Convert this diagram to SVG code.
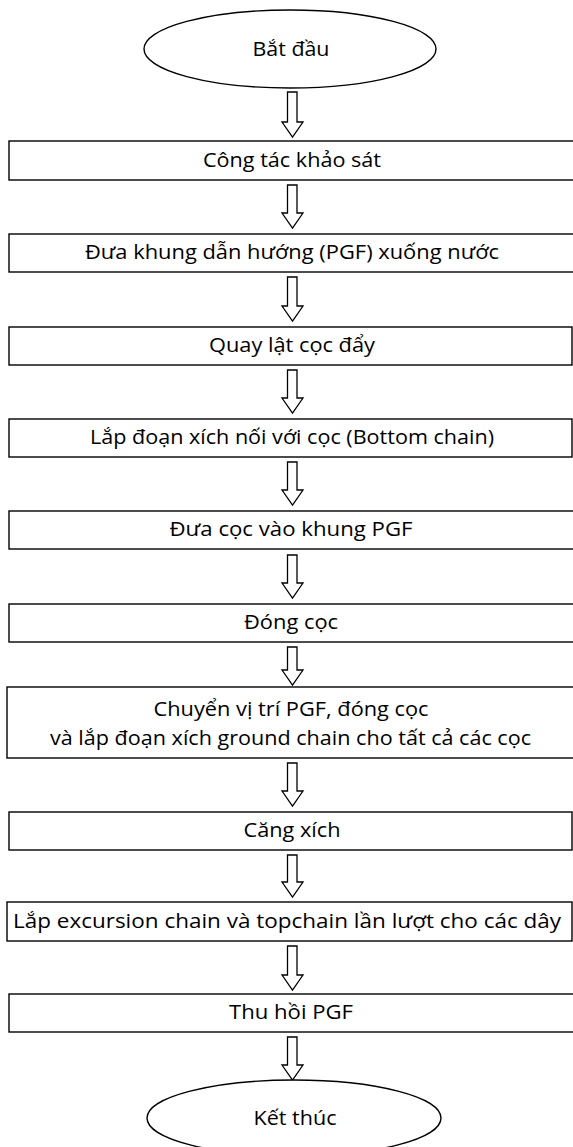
<svg xmlns="http://www.w3.org/2000/svg" width="573" height="1147" viewBox="0 0 573 1147">
<style>
.shape{fill:#fff;stroke:#000;stroke-width:1.4}
.arr{fill:#fff;stroke:#000;stroke-width:1.3;stroke-linejoin:miter}
.t{font-family:"Open Sans","Liberation Sans",sans-serif;font-size:20.5px;fill:#000;text-anchor:middle}
</style>
<rect width="573" height="1147" fill="#fff"/>
<g id="connectors">
<path class="arr" d="M287.5,92 H297 V122 H303 L292.5,137 L282,122 H287.5 Z"/>
<path class="arr" d="M287.5,185 H297 V213 H303 L292.5,228 L282,213 H287.5 Z"/>
<path class="arr" d="M287.5,277 H297 V306 H303 L292.5,321 L282,306 H287.5 Z"/>
<path class="arr" d="M287.5,370 H297 V398 H303 L292.5,413 L282,398 H287.5 Z"/>
<path class="arr" d="M287.5,462 H297 V490 H303 L292.5,505 L282,490 H287.5 Z"/>
<path class="arr" d="M287.5,555 H297 V583 H303 L292.5,598 L282,583 H287.5 Z"/>
<path class="arr" d="M287.5,647 H297 V670 H303 L292.5,685 L282,670 H287.5 Z"/>
<path class="arr" d="M287.5,763 H297 V791 H303 L292.5,806 L282,791 H287.5 Z"/>
<path class="arr" d="M287.5,855 H297 V882 H303 L292.5,897 L282,882 H287.5 Z"/>
<path class="arr" d="M287.5,946 H297 V975 H303 L292.5,990 L282,975 H287.5 Z"/>
<path class="arr" d="M287.5,1037 H297 V1065 H303 L292.5,1080 L282,1065 H287.5 Z"/>
</g>
<g id="start"><ellipse class="shape" cx="290" cy="49" rx="146" ry="39"/><text class="t" x="291" y="56" textLength="77" lengthAdjust="spacingAndGlyphs">Bắt đầu</text></g>
<g id="n1"><rect class="shape" x="9" y="141" width="566" height="39"/><text class="t" x="292" y="167" textLength="178" lengthAdjust="spacingAndGlyphs">Công tác khảo sát</text></g>
<g id="n2"><rect class="shape" x="9" y="234" width="566" height="38"/><text class="t" x="292" y="259" textLength="414" lengthAdjust="spacingAndGlyphs">Đưa khung dẫn hướng (PGF) xuống nước</text></g>
<g id="n3"><rect class="shape" x="9" y="327" width="563" height="38"/><text class="t" x="292" y="352" textLength="166" lengthAdjust="spacingAndGlyphs">Quay lật cọc đẩy</text></g>
<g id="n4"><rect class="shape" x="9" y="419" width="563" height="38"/><text class="t" x="292" y="444" textLength="404" lengthAdjust="spacingAndGlyphs">Lắp đoạn xích nối với cọc (Bottom chain)</text></g>
<g id="n5"><rect class="shape" x="9" y="511" width="566" height="38"/><text class="t" x="291" y="536" textLength="243" lengthAdjust="spacingAndGlyphs">Đưa cọc vào khung PGF</text></g>
<g id="n6"><rect class="shape" x="9" y="604" width="566" height="38"/><text class="t" x="291" y="629" textLength="94" lengthAdjust="spacingAndGlyphs">Đóng cọc</text></g>
<g id="n7"><rect class="shape" x="7" y="687" width="568" height="71"/><text class="t" x="291" y="716" textLength="275" lengthAdjust="spacingAndGlyphs">Chuyển vị trí PGF, đóng cọc</text><text class="t" x="290.5" y="745" textLength="481" lengthAdjust="spacingAndGlyphs">và lắp đoạn xích ground chain cho tất cả các cọc</text></g>
<g id="n8"><rect class="shape" x="9" y="812" width="563" height="38"/><text class="t" x="292" y="837" textLength="97" lengthAdjust="spacingAndGlyphs">Căng xích</text></g>
<g id="n9"><rect class="shape" x="7" y="902" width="565" height="39"/><text class="t" x="287" y="928" textLength="548" lengthAdjust="spacingAndGlyphs">Lắp excursion chain và topchain lần lượt cho các dây</text></g>
<g id="n10"><rect class="shape" x="9" y="994" width="566" height="38"/><text class="t" x="291" y="1019" textLength="124" lengthAdjust="spacingAndGlyphs">Thu hồi PGF</text></g>
<g id="end"><ellipse class="shape" cx="294" cy="1118" rx="147" ry="38"/><text class="t" x="295" y="1125" textLength="83" lengthAdjust="spacingAndGlyphs">Kết thúc</text></g>
</svg>
